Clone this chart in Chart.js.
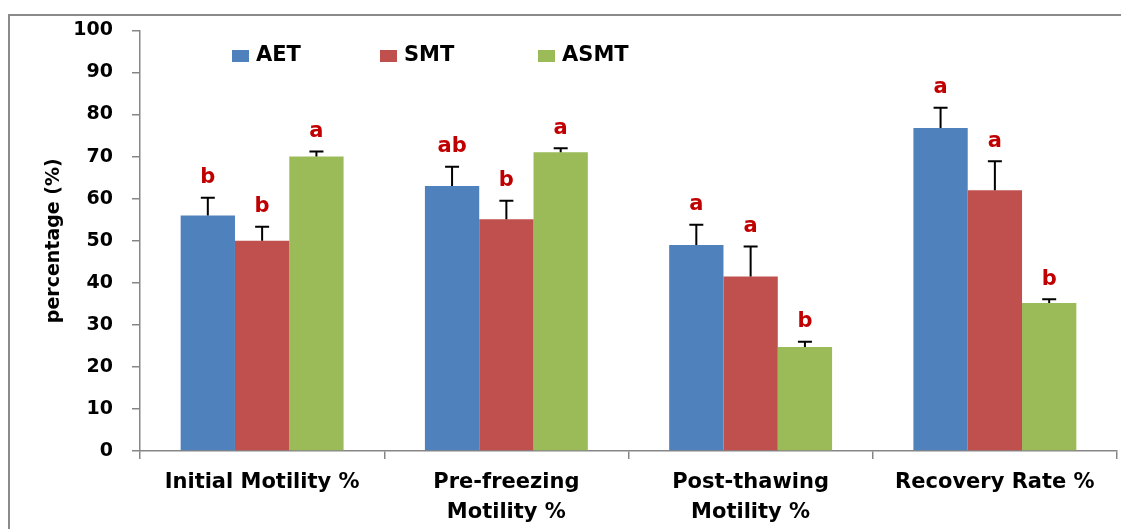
<!DOCTYPE html>
<html>
<head>
<meta charset="utf-8">
<script src="https://cdn.jsdelivr.net/npm/chart.js@4.4.1/dist/chart.umd.min.js"></script>
<style>
  body { margin: 0; background: #fff; }
  #wrap { width: 1121px; height: 529px; position: relative; }
</style>
</head>
<body>
<div id="wrap"><canvas id="motilityChart"></canvas></div>
<script>
// values
let categories = ['Initial Motility %', ['Pre-freezing', 'Motility %'], ['Post-thawing', 'Motility %'], 'Recovery Rate %'];
let seriesNames = ['AET', 'SMT', 'ASMT'];
let aetMeans = [56, 63, 49, 76.8];
let smtMeans = [50, 55.1, 41.5, 62];
let asmtMeans = [70, 71, 24.7, 35.2];
let aetErrors = [4.2, 4.6, 4.8, 4.8];
let smtErrors = [3.3, 4.4, 7.1, 6.9];
let asmtErrors = [1.2, 1.0, 1.3, 0.9];
let aetLetters = ['b', 'ab', 'a', 'a'];
let smtLetters = ['b', 'b', 'a', 'a'];
let asmtLetters = ['a', 'a', 'b', 'b'];
let yTicks = [0, 10, 20, 30, 40, 50, 60, 70, 80, 90, 100];

const FONT = "'DejaVu Sans', Verdana, sans-serif";
const AXIS_GREY = '#868686';

// grey frame round the picture (only top and left edges show)
const framePlugin = {
    id: 'frame',
    beforeDraw: (chart) => {
        const ctx = chart.ctx;
        ctx.save();
        ctx.strokeStyle = '#8a8a8a';
        ctx.lineWidth = 2;
        ctx.strokeRect(9, 15, 1300, 700);
        ctx.restore();
    }
};

// upper error bars
const errorBarPlugin = {
    id: 'errorBars',
    afterDatasetsDraw: (chart) => {
        const ctx = chart.ctx;
        const yScale = chart.scales.y;
        ctx.save();
        ctx.strokeStyle = '#000';
        ctx.lineWidth = 2;
        chart.data.datasets.forEach((ds, d) => {
            const meta = chart.getDatasetMeta(d);
            meta.data.forEach((bar, i) => {
                const yTop = yScale.getPixelForValue(ds.data[i] + ds.errors[i]);
                const yBar = yScale.getPixelForValue(ds.data[i]);
                ctx.beginPath();
                ctx.moveTo(bar.x, yBar);
                ctx.lineTo(bar.x, yTop);
                ctx.moveTo(bar.x - 7, yTop);
                ctx.lineTo(bar.x + 7, yTop);
                ctx.stroke();
            });
        });
        ctx.restore();
    }
};

// significance letters above each error bar
const letterPlugin = {
    id: 'letters',
    afterDatasetsDraw: (chart) => {
        const ctx = chart.ctx;
        const yScale = chart.scales.y;
        ctx.save();
        ctx.fillStyle = '#C00000';
        ctx.font = 'bold 21px ' + FONT;
        ctx.textAlign = 'center';
        ctx.textBaseline = 'middle';
        chart.data.datasets.forEach((ds, d) => {
            const meta = chart.getDatasetMeta(d);
            meta.data.forEach((bar, i) => {
                const yTop = yScale.getPixelForValue(ds.data[i] + ds.errors[i]);
                ctx.fillText(ds.letters[i], bar.x, yTop - 20);
            });
        });
        ctx.restore();
    }
};

// legend sits inside the plot area
const legendPlugin = {
    id: 'innerLegend',
    afterDraw: (chart) => {
        const ctx = chart.ctx;
        const starts = [232, 380, 538];
        const cy = 56;
        ctx.save();
        ctx.font = 'bold 21px ' + FONT;
        ctx.textBaseline = 'middle';
        ctx.textAlign = 'left';
        chart.data.datasets.forEach((ds, d) => {
            const x = starts[d];
            ctx.fillStyle = ds.backgroundColor;
            ctx.fillRect(x, cy - 6, 17, 12);
            ctx.fillStyle = '#000';
            ctx.fillText(ds.label, x + 24, cy);
        });
        ctx.restore();
    }
};

const ctxB = document.getElementById('motilityChart').getContext('2d');
const motilityChart = new Chart(ctxB, {
    type: 'bar',
    data: {
        labels: categories,
        datasets: [{
            label: seriesNames[0],
            data: aetMeans,
            errors: aetErrors,
            letters: aetLetters,
            backgroundColor: '#4F81BD'
        },
        {
            label: seriesNames[1],
            data: smtMeans,
            errors: smtErrors,
            letters: smtLetters,
            backgroundColor: '#C0504D'
        },
        {
            label: seriesNames[2],
            data: asmtMeans,
            errors: asmtErrors,
            letters: asmtLetters,
            backgroundColor: '#9BBB59'
        }]
    },
    options: {
        responsive: true,
        maintainAspectRatio: false,
        animation: false,
        layout: { padding: { top: 29, right: 4, left: 0, bottom: 0 } },
        datasets: {
            bar: { categoryPercentage: 0.667, barPercentage: 1.0, borderWidth: 0 }
        },
        plugins: {
            legend: { display: false },
            tooltip: { enabled: false }
        },
        scales: {
            x: {
                grid: { offset: true, drawOnChartArea: false, drawTicks: true, tickLength: 8, color: AXIS_GREY, lineWidth: 1.5 },
                border: { color: AXIS_GREY, width: 1.5 },
                ticks: {
                    color: '#000',
                    padding: 9,
                    maxRotation: 0,
                    autoSkip: false,
                    font: { family: FONT, size: 21, weight: 'bold', lineHeight: 1.4 }
                },
                afterFit: (scale) => { scale.height = 78; }
            },
            y: {
                min: 0,
                max: 100,
                afterBuildTicks: (scale) => { scale.ticks = yTicks.map(v => ({ value: v })); },
                grid: { drawOnChartArea: false, drawTicks: true, tickLength: 8, color: AXIS_GREY, lineWidth: 1.5 },
                border: { color: AXIS_GREY, width: 1.5 },
                ticks: {
                    color: '#000',
                    padding: 19,
                    font: { family: FONT, size: 19, weight: 'bold' }
                },
                title: {
                    display: true,
                    text: 'percentage (%)',
                    color: '#000',
                    padding: { top: 43, bottom: 0 },
                    font: { family: FONT, size: 19, weight: 'bold' }
                },
                afterFit: (scale) => { scale.width = 140; }
            }
        }
    },
    plugins: [framePlugin, errorBarPlugin, letterPlugin, legendPlugin]
});
</script>
</body>
</html>
